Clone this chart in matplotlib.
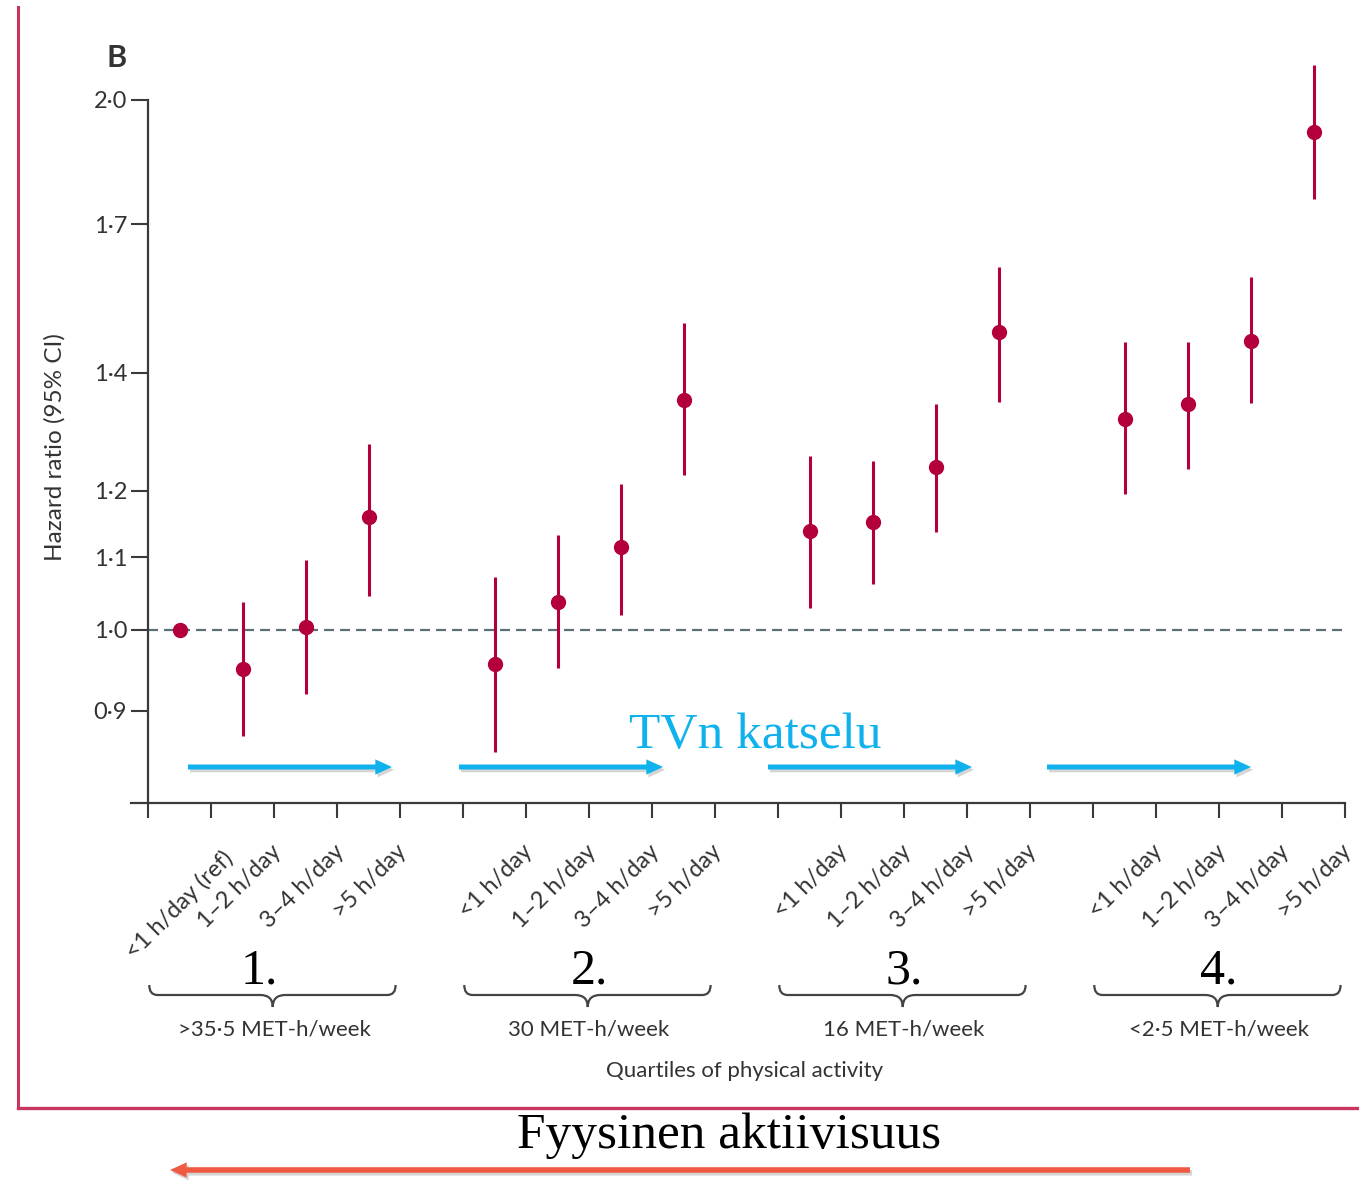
import numpy as np
import matplotlib
matplotlib.use("Agg")
import matplotlib.pyplot as plt
from matplotlib.path import Path
from matplotlib.patches import PathPatch, FancyArrowPatch, ArrowStyle
from matplotlib.lines import Line2D
import matplotlib.transforms as mtransforms
import matplotlib.patheffects as pe

plt.rcParams['font.family'] = ['Lato', 'DejaVu Sans']

# ---------------- data ----------------
tv_labels_ref = ["<1 h/day (ref)", "1–2 h/day", "3–4 h/day", ">5 h/day"]
tv_labels = ["<1 h/day", "1–2 h/day", "3–4 h/day", ">5 h/day"]
activity_groups = [">35·5 MET-h/week", "30 MET-h/week", "16 MET-h/week", "<2·5 MET-h/week"]
group_numbers = ["1.", "2.", "3.", "4."]

hr = [1.000, 0.950, 1.004, 1.159,
      0.957, 1.037, 1.115, 1.351,
      1.138, 1.152, 1.237, 1.476,
      1.317, 1.344, 1.459, 1.918]
ci_low = [1.000, 0.871, 0.920, 1.045,
          0.853, 0.951, 1.020, 1.225,
          1.029, 1.062, 1.137, 1.348,
          1.194, 1.234, 1.345, 1.756]
ci_high = [1.000, 1.037, 1.096, 1.275,
           1.072, 1.132, 1.211, 1.493,
           1.255, 1.248, 1.343, 1.607,
           1.458, 1.458, 1.587, 2.093]

yticks = [0.9, 1.0, 1.1, 1.2, 1.4, 1.7, 2.0]
ytick_labels = ["0·9", "1·0", "1·1", "1·2", "1·4", "1·7", "2·0"]

# ---------------- figure ----------------
W, H = 1359, 1180
fig = plt.figure(figsize=(W / 100, H / 100), dpi=100)
fig.patch.set_facecolor('white')

def fx(px):
    return px / W

def fy(py):
    return (H - py) / H

ax = fig.add_axes([fx(131), fy(803), fx(1345) - fx(131), fy(55) - fy(803)])
ax.set_yscale('log')
ylo, yhi = 0.7976, 2.1204
ax.set_ylim(ylo, yhi)
ax.set_xlim(-0.27, 19)

axis_col = '#3a3a3a'
text_col = '#333333'
red = '#B4003A'

for s in ['top', 'right']:
    ax.spines[s].set_visible(False)
ax.spines['left'].set_position(('data', 0))
ax.spines['left'].set_bounds(ylo, 2.0)
for s in ['left', 'bottom']:
    ax.spines[s].set_color(axis_col)
    ax.spines[s].set_linewidth(1.6)

ax.set_yticks(yticks)
ax.set_yticklabels(ytick_labels)
ax.set_yticks([], minor=True)
ax.tick_params(axis='y', which='major', direction='out', length=12, width=1.5,
               pad=3, labelsize=17, colors=axis_col, labelcolor=text_col)

ax.set_xticks(range(20))
ax.set_xticklabels([])
ax.tick_params(axis='x', which='major', direction='out', length=11, width=1.5,
               colors=axis_col)

# positions
xpos = [5 * g + i + 0.5 for g in range(4) for i in range(4)]

# reference line
ax.hlines(1.0, 0, 19, colors='#5B6F77', linewidth=1.6, linestyles=(0, (4.5, 2.7)), zorder=1)

hr_a = np.array(hr)
err = [hr_a - np.array(ci_low), np.array(ci_high) - hr_a]
ax.errorbar(xpos, hr, yerr=err, fmt='o', color=red, ms=10, elinewidth=2.2,
            capsize=0, zorder=3, clip_on=False)

# rotated category labels
lab_tr = mtransforms.blended_transform_factory(ax.transData, ax.transAxes)
all_labels = tv_labels_ref + tv_labels * 3
for k, (x, lab) in enumerate(zip(xpos, all_labels)):
    dx, dy = 35, 45
    if k == 0:
        dx, dy = 50, 52
    tr = lab_tr + mtransforms.ScaledTranslation(dx / 100, -dy / 100, fig.dpi_scale_trans)
    ax.text(x, 0, lab, transform=tr, rotation=45, rotation_mode='anchor',
            ha='right', va='center', fontsize=17, color=text_col, clip_on=False)

# braces, numbers and group labels
br_tr = mtransforms.blended_transform_factory(ax.transData, fig.transFigure)
y_top, y_mid, y_tip = fy(985), fy(995), fy(1007)
for g in range(4):
    xa, xb = 5 * g + 0.02, 5 * g + 3.93
    xm = 5 * g + 1.98
    c, m = 0.13, 0.2
    verts = [(xa, y_top), (xa, y_mid), (xa + c, y_mid),
             (xm - m, y_mid),
             (xm, y_mid), (xm, y_tip),
             (xm, y_mid), (xm + m, y_mid),
             (xb - c, y_mid),
             (xb, y_mid), (xb, y_top)]
    codes = [Path.MOVETO, Path.CURVE3, Path.CURVE3,
             Path.LINETO,
             Path.CURVE3, Path.CURVE3,
             Path.CURVE3, Path.CURVE3,
             Path.LINETO,
             Path.CURVE3, Path.CURVE3]
    patch = PathPatch(Path(verts, codes), fill=False, edgecolor='#444444',
                      linewidth=1.6, transform=br_tr, clip_on=False)
    fig.add_artist(patch)
    nx = 5 * g + 2 - (0.24 if g == 0 else 0)
    fig.text(0, 0, group_numbers[g], transform=br_tr, fontsize=36,
             family='Liberation Serif', color='black', ha='center', va='baseline')
    fig.texts[-1].set_position((nx, fy(983)))
    fig.text(0, 0, activity_groups[g], transform=br_tr, fontsize=16,
             color=text_col, ha='center', va='center')
    fig.texts[-1].set_position((5 * g + 2, fy(1029)))

fig.text(fx(745), fy(1071), "Quartiles of physical activity", fontsize=16,
         color=text_col, ha='center', va='center')
fig.text(fx(55), fy(447), "Hazard ratio (95% CI)", fontsize=17.5, rotation=90,
         color=text_col, ha='center', va='center')
fig.text(fx(117), fy(58), "B", fontsize=22, fontweight='bold', color=text_col,
         ha='center', va='center')

# annotations: TV watching arrows
blue = '#0FB2EC'
shadow = [pe.SimplePatchShadow(offset=(1.5, -2), shadow_rgbFace='#888888', alpha=0.35), pe.Normal()]
for (a, b) in [(188, 392), (459, 663), (768, 972), (1047, 1251)]:
    arr = FancyArrowPatch((fx(a), fy(767)), (fx(b), fy(767)), transform=fig.transFigure,
                          arrowstyle=ArrowStyle.Simple(head_length=12, head_width=11, tail_width=3.6),
                          mutation_scale=1, color=blue, linewidth=0, shrinkA=0, shrinkB=0,
                          path_effects=shadow)
    fig.add_artist(arr)
fig.text(fx(755), fy(748), "TVn katselu", fontsize=37, family='Liberation Serif',
         color=blue, ha='center', va='baseline')

# frame lines
frame_col = '#C8365F'
fig.add_artist(Line2D([fx(18), fx(18)], [fy(7), fy(1108)], color=frame_col, linewidth=2.2,
                      transform=fig.transFigure))
fig.add_artist(Line2D([fx(18), 1.0], [fy(1108), fy(1108)], color=frame_col, linewidth=2.4,
                      transform=fig.transFigure))

# physical activity arrow
fig.text(fx(729), fy(1148), "Fyysinen aktiivisuus", fontsize=37, family='Liberation Serif',
         color='black', ha='center', va='baseline')
arr = FancyArrowPatch((fx(1190), fy(1170)), (fx(170), fy(1170)), transform=fig.transFigure,
                      arrowstyle=ArrowStyle.Simple(head_length=12, head_width=11, tail_width=4.0),
                      mutation_scale=1, color='#EF5A42', linewidth=0, shrinkA=0, shrinkB=0,
                      path_effects=shadow)
fig.add_artist(arr)

fig.savefig('out.png', dpi=100, facecolor='white')
